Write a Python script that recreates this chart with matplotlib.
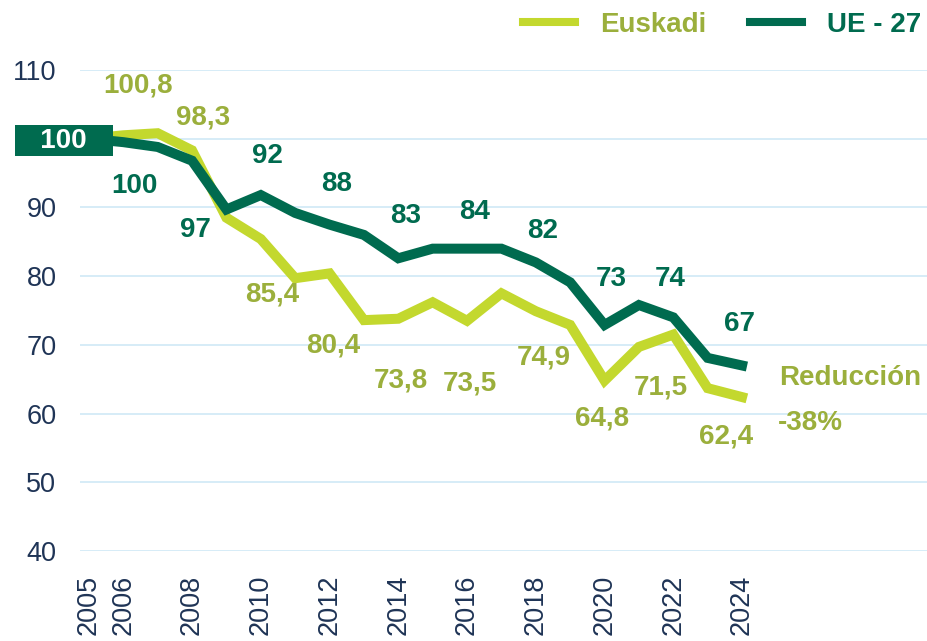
import matplotlib.pyplot as plt
from matplotlib.lines import Line2D

plt.rcParams['font.family'] = ['Liberation Sans', 'DejaVu Sans']

years = list(range(2005, 2025))
euskadi = [100, 100.5, 100.8, 98.3, 88.5, 85.4, 79.7, 80.4, 73.6, 73.8,
           76.2, 73.5, 77.5, 74.9, 72.9, 64.8, 69.7, 71.5, 63.7, 62.4]
ue27 = [100, 99.5, 98.8, 96.8, 89.7, 91.8, 89.2, 87.5, 86.0, 82.6,
        84.0, 84.0, 84.0, 82.0, 79.1, 72.9, 75.8, 74.0, 68.1, 67.0]

tick_years = [2005, 2006, 2008, 2010, 2012, 2014, 2016, 2018, 2020, 2022, 2024]
y_ticks = [40, 50, 60, 70, 80, 90, 100, 110]
# the 100 tick is covered by the base-year box
y_ticklabels = ['40', '50', '60', '70', '80', '90', '', '110']

eus_label_years = [2007, 2008, 2010, 2012, 2014, 2016, 2018, 2020, 2022, 2024]
eus_labels = ['100,8', '98,3', '85,4', '80,4', '73,8', '73,5', '74,9', '64,8', '71,5', '62,4']
ue_label_years = [2006, 2008, 2010, 2012, 2014, 2016, 2018, 2020, 2022, 2024]
ue_labels = ['100', '97', '92', '88', '83', '84', '82', '73', '74', '67']

# label offsets in pixels (dx, dy)
eus_off = [(-20, 48), (11, 33), (11, -55), (4, -72), (3, -62), (3, -63),
           (8, -46), (-2, -38), (-12, -53), (-16, -39)]
ue_off = [(11, -44), (3, -69), (7, 39), (7, 41), (7, 42), (8, 37),
          (7, 31), (7, 46), (-3, 38), (-3, 41)]

light = '#C3D82E'
olive = '#9BAF3C'
dark = '#006B4F'
navy = '#1F3456'
grid = '#CBE7F5'

fig = plt.figure(figsize=(9.28, 6.41), dpi=100)
ax = fig.add_axes([80/928, 90/641, 848/928, 481/641])

ax.plot(years, euskadi, color=light, lw=7.2, solid_joinstyle='miter', zorder=3)
ax.plot(years, ue27, color=dark, lw=7.2, solid_joinstyle='miter', zorder=4)

ax.set_xlim(2004.74, 2029.41)
ax.set_ylim(40, 110)
ax.set_yticks(y_ticks)
ax.set_yticklabels(y_ticklabels)
ax.set_xticks(tick_years)
ax.set_xticklabels([str(y) for y in tick_years], rotation=90)
ax.tick_params(axis='y', length=0, pad=17, labelsize=19.5, labelcolor=navy)
ax.tick_params(axis='x', length=0, pad=17, labelsize=19.5, labelcolor=navy)
ax.grid(axis='y', color=grid, lw=1.1)
ax.set_axisbelow(True)
for s in ax.spines.values():
    s.set_visible(False)

for yr, txt, (dx, dy) in zip(eus_label_years, eus_labels, eus_off):
    v = euskadi[years.index(yr)]
    ax.annotate(txt, (yr, v), xytext=(dx, dy), textcoords='offset pixels',
                ha='center', va='center', fontsize=20, fontweight='bold', color=olive)

for yr, txt, (dx, dy) in zip(ue_label_years, ue_labels, ue_off):
    v = ue27[years.index(yr)]
    ax.annotate(txt, (yr, v), xytext=(dx, dy), textcoords='offset pixels',
                ha='center', va='center', fontsize=20, fontweight='bold', color=dark)

# base year box
ax.annotate('   100   ', (years[0], ue27[0]), xytext=(-25, -2), textcoords='offset pixels',
            ha='center', va='center', fontsize=20, fontweight='bold', color='white',
            bbox=dict(boxstyle='square,pad=0.08', fc=dark, ec='none'), zorder=6)

ax.annotate('Reducción', (years[-1], euskadi[-1]), xytext=(37, 19), textcoords='offset pixels',
            ha='left', va='center', fontsize=20, fontweight='bold', color=olive)
ax.annotate('-38%', (years[-1], euskadi[-1]), xytext=(36, -26), textcoords='offset pixels',
            ha='left', va='center', fontsize=20, fontweight='bold', color=olive)

handles = [Line2D([], [], color=light, lw=5.8), Line2D([], [], color=dark, lw=5.8)]
leg = fig.legend(handles, ['Euskadi', 'UE - 27'], loc='center right',
                 bbox_to_anchor=(921/928, 1 - 25/641), ncol=2, frameon=False,
                 prop={'size': 20, 'weight': 'bold'}, handlelength=1.85,
                 handletextpad=0.9, columnspacing=1.6, borderpad=0, borderaxespad=0)
leg.get_texts()[0].set_color(olive)
leg.get_texts()[1].set_color(dark)

fig.savefig('out.png', dpi=100)
